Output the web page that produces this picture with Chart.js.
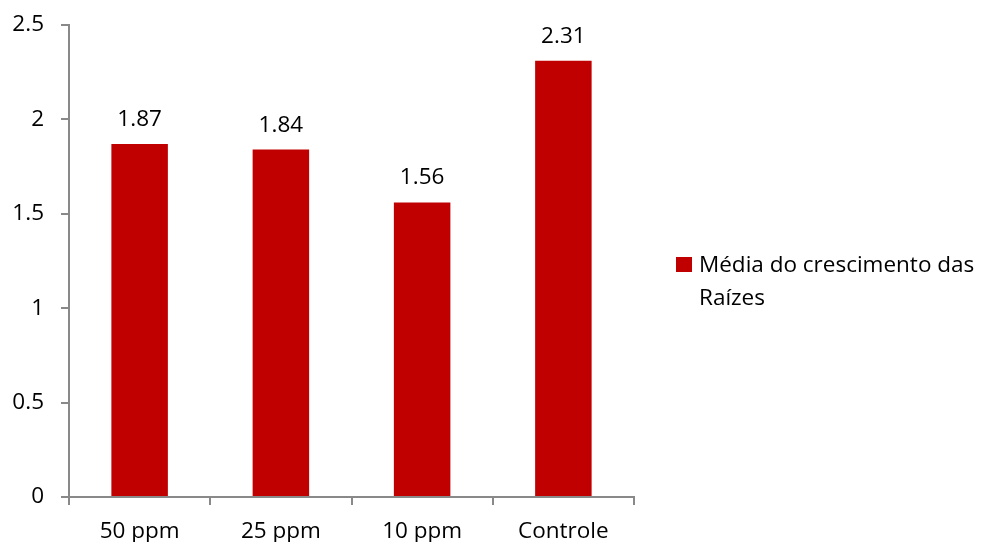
<!DOCTYPE html>
<html>
<head>
<meta charset="utf-8">
<script src="https://cdn.jsdelivr.net/npm/chart.js@4"></script>
<style>
  html, body { margin: 0; padding: 0; background: #fff; }
  #wrap { width: 985px; height: 542px; }
</style>
</head>
<body>
<div id="wrap"><canvas id="c" width="985" height="542"></canvas></div>
<script>
const categories = ['50 ppm', '25 ppm', '10 ppm', 'Controle'];
const rootGrowth = [1.87, 1.84, 1.56, 2.31];
const yTicks = [0, 0.5, 1, 1.5, 2, 2.5];
const seriesName = ['Média do crescimento das', 'Raízes'];

const FONT = '"Open Sans", sans-serif';
const SIZE = 22.5;
const AXIS = '#898989';
const BAR = '#C00000';

// value labels above each bar
const valueLabels = {
  id: 'valueLabels',
  afterDatasetsDraw(chart) {
    const ctx = chart.ctx;
    const meta = chart.getDatasetMeta(0);
    ctx.save();
    ctx.font = SIZE + 'px ' + FONT;
    ctx.fillStyle = '#000';
    ctx.textAlign = 'center';
    ctx.textBaseline = 'alphabetic';
    meta.data.forEach((bar, i) => {
      ctx.fillText(rootGrowth[i].toFixed(2), bar.x, bar.y - 18);
    });
    ctx.restore();
  }
};

// legend on the right, wrapped over two lines
const sideLegend = {
  id: 'sideLegend',
  afterDraw(chart) {
    const ctx = chart.ctx;
    ctx.save();
    ctx.fillStyle = BAR;
    ctx.fillRect(676, 257, 16, 15);
    ctx.fillStyle = '#000';
    ctx.font = SIZE + 'px ' + FONT;
    ctx.textAlign = 'left';
    ctx.textBaseline = 'alphabetic';
    seriesName.forEach((line, i) => ctx.fillText(line, 699, 272 + i * 33));
    ctx.restore();
  }
};

new Chart(document.getElementById('c'), {
  type: 'bar',
  data: {
    labels: categories,
    datasets: [{
      label: seriesName.join(' '),
      data: rootGrowth,
      backgroundColor: BAR,
      categoryPercentage: 1,
      barPercentage: 0.4
    }]
  },
  options: {
    responsive: false,
    animation: false,
    layout: { padding: { top: 25, right: 351, left: 0, bottom: 0 } },
    plugins: { legend: { display: false }, tooltip: { enabled: false } },
    scales: {
      x: {
        grid: { display: true, drawOnChartArea: false, drawTicks: true, tickLength: 8, color: AXIS, lineWidth: 2 },
        border: { display: true, color: AXIS, width: 2 },
        ticks: { color: '#000', font: { family: FONT, size: SIZE }, padding: 13, maxRotation: 0 },
        afterFit(s) { s.height = 45; s.paddingLeft = 0; s.paddingRight = 0; }
      },
      y: {
        min: 0, max: 2.5,
        afterBuildTicks(s) { s.ticks = yTicks.map(v => ({ value: v })); },
        grid: { display: true, drawOnChartArea: false, drawTicks: true, tickLength: 8, color: AXIS, lineWidth: 2 },
        border: { display: true, color: AXIS, width: 2 },
        ticks: { color: '#000', font: { family: FONT, size: SIZE }, padding: 17, callback: v => String(v) },
        afterFit(s) { s.width = 69; s.paddingTop = 0; s.paddingBottom = 0; }
      }
    }
  },
  plugins: [valueLabels, sideLegend]
});
</script>
</body>
</html>
